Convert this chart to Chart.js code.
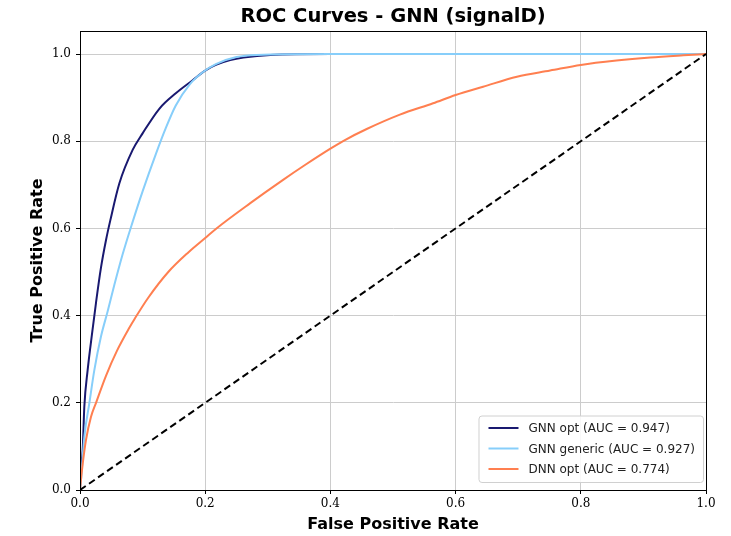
<!DOCTYPE html>
<html>
<head>
<meta charset="utf-8">
<script src="https://cdn.jsdelivr.net/npm/chart.js@4"></script>
<style>
  html, body { margin: 0; padding: 0; background: #fff; }
  #wrap { width: 731px; height: 536px; }
</style>
</head>
<body>
<div id="wrap"><canvas id="rocChart" width="731" height="536"></canvas></div>
<script>
// ROC points (false positive rate, true positive rate) per model
const gnnOptFpr = [0, 0.001, 0.0043, 0.0069, 0.0122, 0.020, 0.0256, 0.0335, 0.0415, 0.0485, 0.0628, 0.0841, 0.100, 0.127, 0.153, 0.180, 0.200, 0.217, 0.240, 0.261, 0.304, 0.4, 1.0];
const gnnOptTpr = [0, 0.04, 0.092, 0.191, 0.275, 0.367, 0.430, 0.510, 0.573, 0.619, 0.703, 0.780, 0.818, 0.875, 0.910, 0.940, 0.962, 0.975, 0.986, 0.992, 0.998, 1.0, 1.0];

const gnnGenFpr = [0, 0.002, 0.0069, 0.0149, 0.0229, 0.0335, 0.0442, 0.0548, 0.068, 0.0841, 0.100, 0.121, 0.137, 0.153, 0.175, 0.196, 0.217, 0.250, 0.282, 0.4, 1.0];
const gnnGenTpr = [0, 0.03, 0.122, 0.199, 0.275, 0.352, 0.410, 0.470, 0.540, 0.615, 0.685, 0.770, 0.830, 0.882, 0.930, 0.958, 0.977, 0.993, 0.998, 1.0, 1.0];

const dnnOptFpr = [0, 0.002, 0.0043, 0.0096, 0.0176, 0.0256, 0.0415, 0.0586, 0.0788, 0.0879, 0.109, 0.141, 0.173, 0.200, 0.218, 0.272, 0.325, 0.360, 0.400, 0.421, 0.458, 0.511, 0.564, 0.600, 0.644, 0.698, 0.751, 0.800, 0.857, 0.911, 0.964, 1.0];
const dnnOptTpr = [0, 0.030, 0.060, 0.115, 0.168, 0.200, 0.262, 0.318, 0.372, 0.394, 0.441, 0.500, 0.545, 0.578, 0.600, 0.658, 0.712, 0.746, 0.783, 0.801, 0.828, 0.861, 0.887, 0.906, 0.925, 0.948, 0.962, 0.975, 0.985, 0.992, 0.997, 1.0];

const chanceFpr = [0, 1];
const chanceTpr = [0, 1];

const seriesLabels = ['GNN opt (AUC = 0.947)', 'GNN generic (AUC = 0.927)', 'DNN opt (AUC = 0.774)'];
const seriesColors = ['#191970', '#87cefa', '#ff7f50'];
const axisTicks = [0, 0.2, 0.4, 0.6, 0.8, 1.0];

const toPoints = (xs, ys) => xs.map((x, i) => ({ x: x, y: ys[i] }));

const sansFont = "'DejaVu Sans', sans-serif";
const serifFont = "'DejaVu Serif', serif";

// box around the plot, like matplotlib spines
const frame = {
  id: 'frame',
  afterDatasetsDraw(chart) {
    const { ctx, chartArea: a } = chart;
    ctx.save();
    ctx.strokeStyle = '#000';
    ctx.lineWidth = 1;
    ctx.strokeRect(a.left + 0.5, a.top + 0.5, a.right - a.left, a.bottom - a.top);
    ctx.restore();
  }
};

// legend in the lower right corner of the plot
const cornerLegend = {
  id: 'cornerLegend',
  afterDraw(chart) {
    const { ctx, chartArea: a } = chart;
    const items = chart.data.datasets.filter(d => d.label);
    ctx.save();
    ctx.font = '12px ' + sansFont;
    const textW = Math.max(...items.map(d => ctx.measureText(d.label).width));
    const rowH = 20.5;
    const w = 10 + 30 + 10 + textW + 8;
    const h = items.length * rowH + 5;
    const x = a.right - 3 - w;
    const y = a.bottom - 8 - h;
    ctx.fillStyle = 'rgba(255,255,255,0.85)';
    ctx.strokeStyle = '#d0d0d0';
    ctx.lineWidth = 1;
    ctx.beginPath();
    ctx.roundRect(x + 0.5, y + 0.5, w, h, 3);
    ctx.fill();
    ctx.stroke();
    items.forEach((d, i) => {
      const cy = y + 12.5 + i * rowH;
      ctx.strokeStyle = d.borderColor;
      ctx.lineWidth = 2;
      ctx.beginPath();
      ctx.moveTo(x + 10, cy);
      ctx.lineTo(x + 40, cy);
      ctx.stroke();
      ctx.fillStyle = '#222';
      ctx.textBaseline = 'middle';
      ctx.fillText(d.label, x + 50, cy + 1);
    });
    ctx.restore();
  }
};

const keepAxisTicks = scale => {
  scale.ticks = axisTicks.map(v => ({ value: v }));
};

new Chart(document.getElementById('rocChart').getContext('2d'), {
  type: 'line',
  data: {
    datasets: [
      { label: seriesLabels[0], data: toPoints(gnnOptFpr, gnnOptTpr), borderColor: seriesColors[0], order: 3 },
      { label: seriesLabels[1], data: toPoints(gnnGenFpr, gnnGenTpr), borderColor: seriesColors[1], order: 2 },
      { label: seriesLabels[2], data: toPoints(dnnOptFpr, dnnOptTpr), borderColor: seriesColors[2], order: 1 },
      { label: '', data: toPoints(chanceFpr, chanceTpr), borderColor: '#000', borderDash: [7, 4], order: 0 }
    ]
  },
  options: {
    responsive: false,
    animation: false,
    elements: {
      point: { radius: 0 },
      line: { borderWidth: 2, cubicInterpolationMode: 'monotone', fill: false }
    },
    layout: { padding: { left: 28, right: 25, top: 0, bottom: 0 } },
    scales: {
      x: {
        type: 'linear',
        min: 0,
        max: 1,
        afterBuildTicks: keepAxisTicks,
        afterFit: s => { s.height = 46; },
        grid: { color: '#cccccc', tickColor: '#000', tickLength: 4 },
        border: { color: '#000' },
        ticks: {
          color: '#000',
          padding: 3,
          maxRotation: 0,
          font: { family: serifFont, size: 12 },
          callback: v => v.toFixed(1)
        },
        title: {
          display: true,
          text: 'False Positive Rate',
          color: '#000',
          font: { family: sansFont, size: 16, weight: 'bold' },
          padding: { top: 0, bottom: 2 }
        }
      },
      y: {
        type: 'linear',
        min: 0,
        max: 1.0528,
        afterBuildTicks: keepAxisTicks,
        afterFit: s => { s.width = 52; },
        grid: { color: '#cccccc', tickColor: '#000', tickLength: 4 },
        border: { color: '#000' },
        ticks: {
          color: '#000',
          padding: 5,
          font: { family: serifFont, size: 12 },
          callback: v => v.toFixed(1)
        },
        title: {
          display: true,
          text: 'True Positive Rate',
          color: '#000',
          font: { family: sansFont, size: 16, weight: 'bold' },
          padding: { top: 0, bottom: 0 }
        }
      }
    },
    plugins: {
      legend: { display: false },
      tooltip: { enabled: false },
      title: {
        display: true,
        fullSize: false,
        text: 'ROC Curves - GNN (signalD)',
        color: '#000',
        font: { family: sansFont, size: 19.5, weight: 'bold' },
        padding: { top: 5, bottom: 2.6 }
      }
    }
  },
  plugins: [frame, cornerLegend]
});
</script>
</body>
</html>
